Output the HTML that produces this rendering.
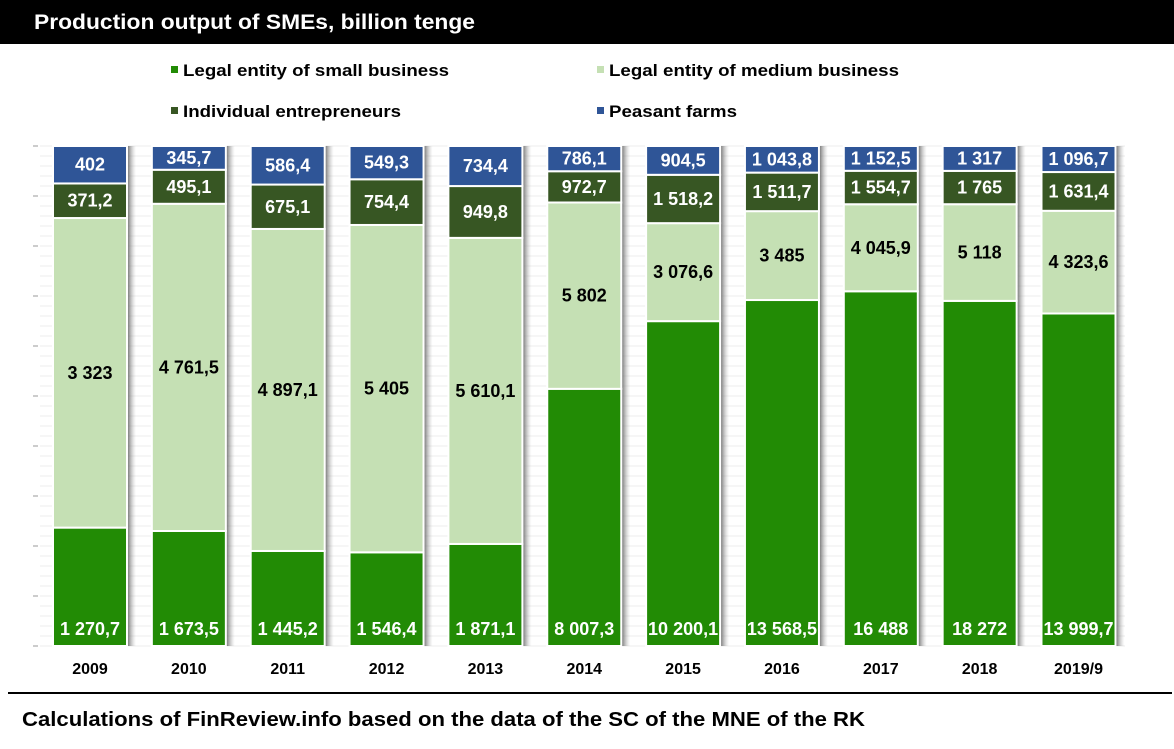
<!DOCTYPE html>
<html><head><meta charset="utf-8"><style>
body{margin:0;width:1174px;height:744px;background:#fff;overflow:hidden;font-family:"Liberation Sans",Arial,sans-serif;}
svg text{font-family:"Liberation Sans",Arial,sans-serif;font-weight:bold;}
</style></head><body>
<svg id="chart" width="1174" height="744" viewBox="0 0 1174 744" xmlns="http://www.w3.org/2000/svg">
<defs>
<linearGradient id="shadow" x1="0" x2="1" y1="0" y2="0">
<stop offset="0" stop-color="#555" stop-opacity="0.9"/><stop offset="1" stop-color="#bbb" stop-opacity="0"/>
</linearGradient>
</defs>
<rect x="0" y="0" width="1174" height="44" fill="#000"/>
<text x="34" y="29" fill="#fff" font-size="21" textLength="441" lengthAdjust="spacingAndGlyphs">Production output of SMEs, billion tenge</text>
<g>
<rect x="171" y="66" width="7" height="7" fill="#228b05"/>
<text x="183" y="76" font-size="17" textLength="266" lengthAdjust="spacingAndGlyphs">Legal entity of small business</text>
<rect x="597" y="66" width="7" height="7" fill="#c5e0b4"/>
<text x="609" y="76" font-size="17" textLength="290" lengthAdjust="spacingAndGlyphs">Legal entity of medium business</text>
<rect x="171" y="107" width="7" height="7" fill="#375623"/>
<text x="183" y="117" font-size="17" textLength="218" lengthAdjust="spacingAndGlyphs">Individual entrepreneurs</text>
<rect x="597" y="107" width="7" height="7" fill="#2f5597"/>
<text x="609" y="117" font-size="17" textLength="128" lengthAdjust="spacingAndGlyphs">Peasant farms</text>
</g>
<g id="grid"></g>
<g id="bars"></g>
<line x1="8" y1="693" x2="1172" y2="693" stroke="#000" stroke-width="2"/>
<text x="22" y="726" font-size="20" textLength="843" lengthAdjust="spacingAndGlyphs">Calculations of FinReview.info based on the data of the SC of the MNE of the RK</text>
</svg>
<script>
const categories=["2009","2010","2011","2012","2013","2014","2015","2016","2017","2018","2019/9"];
const small=[1270.7,1673.5,1445.2,1546.4,1871.1,8007.3,10200.1,13568.5,16488,18272,13999.7];
const medium=[3323,4761.5,4897.1,5405,5610.1,5802,3076.6,3485,4045.9,5118,4323.6];
const individual=[371.2,495.1,675.1,754.4,949.8,972.7,1518.2,1511.7,1554.7,1765,1631.4];
const peasant=[402,345.7,586.4,549.3,734.4,786.1,904.5,1043.8,1152.5,1317,1096.7];

const NS="http://www.w3.org/2000/svg";
const yTop=146,yBottom=646,xStart=40,step=98.85,bw=74;
function fmt(v){let s=(Math.round(v*10)/10).toString().split('.');s[0]=s[0].replace(/\B(?=(\d{3})+(?!\d))/g,' ');return s.join(',');}
function xPos(i){return xStart+13+i*step;}
function yPos(frac){return yBottom-frac*(yBottom-yTop);}
function mk(tag,attrs,parent){const e=document.createElementNS(NS,tag);for(const k in attrs)e.setAttribute(k,attrs[k]);parent.appendChild(e);return e;}
const grid=document.getElementById('grid');
for(let y=yBottom;y>=yTop-1;y-=10){
  const l=mk('line',{x1:40,x2:1125,y1:y,y2:y,stroke:'#ececec','stroke-width':1},grid);
  
  
}
for(let k=0;k<=10;k++){
  const y=yPos(k/10);
  const t=mk('line',{x1:33,x2:38,y1:y,y2:y,stroke:'#999','stroke-width':1},grid);
  
  
}
const bars=document.getElementById('bars');
const series=[
 {name:'small',vals:small,fill:'#228b05',tc:'#fff'},
 {name:'medium',vals:medium,fill:'#c5e0b4',tc:'#000'},
 {name:'individual',vals:individual,fill:'#375623',tc:'#fff'},
 {name:'peasant',vals:peasant,fill:'#2f5597',tc:'#fff'}];
categories.forEach((c,i)=>{
  const total=small[i]+medium[i]+individual[i]+peasant[i];
  const x=xPos(i);
  const sh=mk('rect',{x:x+bw,y:yTop,width:9,height:yBottom-yTop,fill:'url(#shadow)'},bars);
  
  
  let cum=0;
  series.forEach((s,j)=>{
    const v=s.vals[i];
    const y1=yPos(cum/total),y2=yPos((cum+v)/total);
    cum+=v;
    const r=mk('rect',{x:x,y:y2,width:bw,height:Math.max(0,y1-y2),fill:s.fill,stroke:'#fff','stroke-width':2},bars);
    
    
    const ty=j===0?y1-11:(y1+y2)/2+6;
    const t=mk('text',{x:x+bw/2,y:ty,'text-anchor':'middle','font-size':18,fill:s.tc},bars);
    t.textContent=fmt(v);
    const lw=t.getComputedTextLength?t.getComputedTextLength():0;
    if(lw>bw-2){t.setAttribute('textLength',bw-2);t.setAttribute('lengthAdjust','spacingAndGlyphs');}
    
    
  });
  const xl=mk('text',{x:x+bw/2,y:674,'text-anchor':'middle','font-size':16,fill:'#000'},bars);
  xl.textContent=c;
  
  
});
</script>
</body></html>
